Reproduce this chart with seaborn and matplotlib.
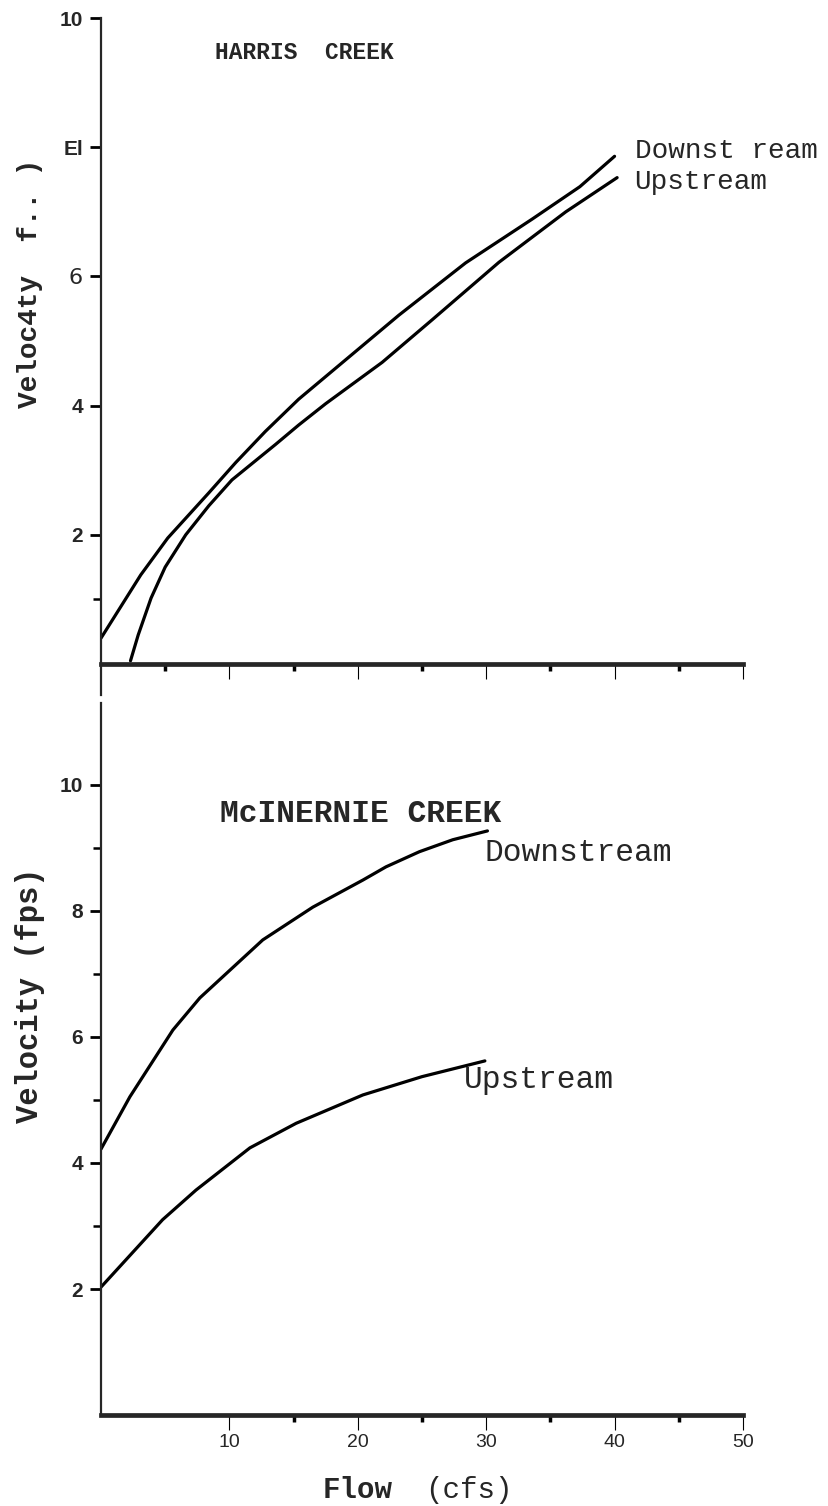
import numpy as np
import pandas as pd
import seaborn as sns
import matplotlib.pyplot as plt

# Harris Creek, velocity (fps) vs flow (cfs)
harris_down_flow = [0, 3.1, 5.2, 8.4, 10.5, 12.8, 15.4, 19.3, 23.2, 28.4, 33.6, 37.3, 40.0]
harris_down_vel = [0.4, 1.38, 1.95, 2.65, 3.12, 3.6, 4.1, 4.75, 5.4, 6.21, 6.89, 7.39, 7.86]
harris_up_flow = [2.3, 2.9, 3.9, 5.0, 6.6, 8.4, 10.2, 13.6, 15.4, 17.5, 21.9, 25.8, 31.0, 36.2, 40.2]
harris_up_vel = [0.05, 0.45, 1.02, 1.5, 2.0, 2.45, 2.85, 3.4, 3.7, 4.03, 4.67, 5.33, 6.22, 7.0, 7.53]

# McInernie Creek
mcin_down_flow = [0, 2.25, 5.6, 7.7, 12.6, 16.5, 20.4, 22.2, 24.8, 27.4, 30.1]
mcin_down_vel = [4.22, 5.05, 6.11, 6.62, 7.54, 8.06, 8.49, 8.7, 8.94, 9.13, 9.27]
mcin_up_flow = [0, 4.8, 7.4, 11.6, 15.2, 20.4, 25.0, 29.9]
mcin_up_vel = [2.03, 3.1, 3.57, 4.24, 4.63, 5.08, 5.37, 5.62]

top_ytick_labels = ['2', '4', '6', 'El', '10']
bot_ytick_labels = ['2', '4', '6', '8', '10']
xtick_labels = ['10', '20', '30', '40', '50']


def to_frame(flow, vel, reach):
    return pd.DataFrame({'flow': flow, 'velocity': vel, 'reach': reach})


harris = pd.concat([to_frame(harris_down_flow, harris_down_vel, 'Downstream'),
                    to_frame(harris_up_flow, harris_up_vel, 'Upstream')], ignore_index=True)
mcinernie = pd.concat([to_frame(mcin_down_flow, mcin_down_vel, 'Downstream'),
                       to_frame(mcin_up_flow, mcin_up_vel, 'Upstream')], ignore_index=True)

sns.set_style('ticks')
plt.rcParams['font.family'] = ['Liberation Mono', 'DejaVu Sans']

fig = plt.figure(figsize=(8.29, 15.06), dpi=100)
ax_top = fig.add_axes([0.1218, 0.5385, 0.7744, 0.4495])
ax_bot = fig.add_axes([0.1218, 0.0604, 0.7744, 0.4728])

for ax, df in [(ax_top, harris), (ax_bot, mcinernie)]:
    sns.lineplot(data=df, x='flow', y='velocity', hue='reach', estimator=None, sort=False,
                 palette={'Downstream': 'black', 'Upstream': 'black'},
                 linewidth=2.3, legend=False, ax=ax)
    sns.despine(ax=ax)
    ax.spines['left'].set_linewidth(1.6)
    ax.spines['bottom'].set_linewidth(3.4)
    ax.spines['bottom'].set_position(('data', 0))
    ax.set_xlim(0, 50)
    ax.set_xticks([10, 20, 30, 40, 50])
    ax.tick_params(axis='x', which='major', direction='out', length=11, width=0.8, color='black')
    ax.tick_params(axis='x', which='minor', direction='out', length=5, width=2.5, color='black')
    ax.tick_params(axis='y', which='major', direction='out', length=8, width=2, pad=5, color='black')
    ax.tick_params(axis='y', which='minor', direction='out', length=6, width=1.8, color='black')
    ax.set_xlabel('')
    ax.set_ylabel('')

# top panel
ax_top.set_ylim(-0.48, 10)
ax_top.set_xticks([5, 15, 25, 35, 45], minor=True)
ax_top.set_xticklabels([])
ax_top.set_yticks([2, 4, 6, 8, 10])
ax_top.set_yticks([1], minor=True)
ax_top.set_yticklabels(top_ytick_labels, fontfamily='Liberation Sans', fontweight='bold', fontsize=15)
six = ax_top.get_yticklabels()[2]
six.set_fontweight('normal')
six.set_fontfamily('DejaVu Sans')
six.set_fontsize(16)
ax_top.text(8.9, 9.47, 'HARRIS  CREEK', fontsize=16.5, fontweight='bold', va='center')
ax_top.text(41.6, 7.94, 'Downst ream', fontsize=20, va='center')
ax_top.text(41.5, 7.46, 'Upstream', fontsize=20, va='center')

# bottom panel
ax_bot.set_ylim(0, 11.3)
ax_bot.set_xticks([15, 25, 35, 45], minor=True)
ax_bot.set_xticklabels(xtick_labels, fontfamily='Liberation Sans', fontsize=14)
ax_bot.tick_params(axis='x', which='major', pad=3)
ax_bot.set_yticks([2, 4, 6, 8, 10])
ax_bot.set_yticks([3, 5, 7, 9], minor=True)
ax_bot.set_yticklabels(bot_ytick_labels, fontfamily='Liberation Sans', fontweight='bold', fontsize=15)
ax_bot.text(9.25, 9.54, 'McINERNIE CREEK', fontsize=22.5, fontweight='bold', va='center')
ax_bot.text(29.9, 8.92, 'Downstream', fontsize=22.5, va='center')
ax_bot.text(28.3, 5.32, 'Upstream', fontsize=22.5, va='center')

# axis titles
fig.text(30 / 829, 1 - 283 / 1506, 'Veloc4ty  f.. )', rotation=90, fontsize=20,
         fontweight='bold', ha='center', va='center')
fig.text(30 / 829, 1 - 995 / 1506, 'Velocity (fps)', rotation=90, fontsize=22,
         fontweight='bold', ha='center', va='center')
fig.text(323 / 829, 1 - 1490 / 1506, 'Flow', fontsize=21, fontweight='bold', ha='left', va='center')
fig.text(425 / 829, 1 - 1490 / 1506, '(cfs)', fontsize=21, ha='left', va='center')

fig.savefig('out.png', dpi=100, facecolor='white')
